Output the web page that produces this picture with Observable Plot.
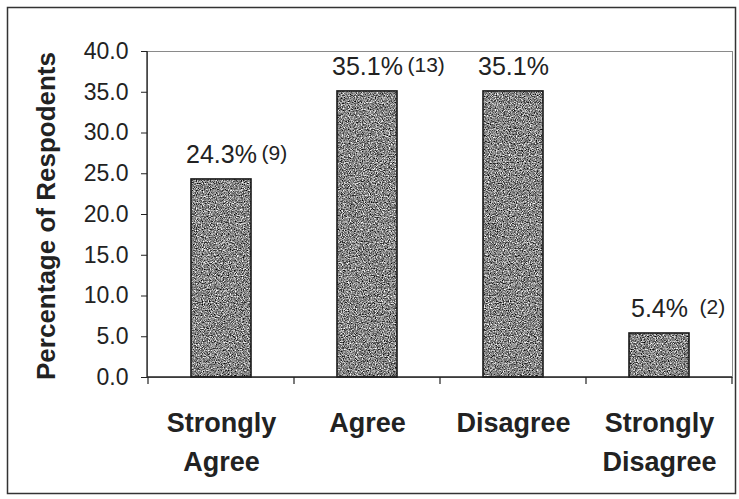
<!DOCTYPE html>
<html>
<head>
<meta charset="utf-8">
<script src="https://cdn.jsdelivr.net/npm/d3@7"></script>
<script src="https://cdn.jsdelivr.net/npm/@observablehq/plot@0.6"></script>
<style>
  html, body { margin: 0; padding: 0; background: #fff; }
</style>
</head>
<body>
<div id="chart"></div>
<script>
// ---- data ----
const categories = ["Strongly Agree", "Agree", "Disagree", "Strongly Disagree"];
const xLabels = ["Strongly\nAgree", "Agree", "Disagree", "Strongly\nDisagree"];
const percents = [24.3, 35.1, 35.1, 5.4];
const counts = ["(9)", "(13)", "", "(2)"];
const yTicks = [0, 5, 10, 15, 20, 25, 30, 35, 40];
const yTitle = "Percentage of Respodents";

const data = categories.map((c, i) => ({cat: c, pct: percents[i], count: counts[i]}));

const chart = Plot.plot({
  width: 739,
  height: 499,
  marginLeft: 147,
  marginRight: 7,
  marginTop: 51,
  marginBottom: 122,
  style: {fontFamily: "'Liberation Sans', Arial, sans-serif", background: "#fff", color: "#222"},
  x: {domain: categories, paddingInner: 0.59, paddingOuter: 0.295},
  y: {domain: [0, 40]},
  marks: [
    Plot.frame({stroke: "#8a8a8a", strokeWidth: 1}),
    Plot.barY(data, {x: "cat", y: "pct", fill: "url(#grainPat)", stroke: "#1a1a1a", strokeWidth: 1.6}),
    Plot.axisY({ticks: yTicks, tickFormat: d => d.toFixed(1), tickSize: 6, tickPadding: 13, fontSize: 23, label: null, stroke: "#222"}),
    Plot.axisX({tickSize: 0, tickPadding: 27, fontSize: 27, fontWeight: "bold", lineHeight: 1.45,
      tickFormat: d => xLabels[categories.indexOf(d)], label: null, fill: "#222"}),
    Plot.text(data, {x: "cat", y: "pct", text: d => d.pct.toFixed(1) + "%", dy: -24, fontSize: 25, lineAnchor: "middle", fill: "#222"}),
    Plot.text(data, {x: "cat", y: "pct", text: "count", textAnchor: "start", dx: 40, dy: -26, fontSize: 21, lineAnchor: "middle", fill: "#222"})
  ]
});

document.getElementById("chart").appendChild(chart);

// ---- decorations built from the plot's own scales ----
const svg = d3.select(chart);
const xs = chart.scale("x");
const ys = chart.scale("y");
const y0 = ys.apply(0);
const yTop = ys.apply(40);
const xr = xs.range;
const step = xs.step ?? (xr[1] - xr[0]) / categories.length;
const bw = xs.bandwidth;

// grain pattern for the bars
const defs = svg.insert("defs", ":first-child");
const filt = defs.append("filter").attr("id", "grain").attr("x", 0).attr("y", 0).attr("width", 1).attr("height", 1)
  .attr("color-interpolation-filters", "sRGB");
filt.append("feTurbulence").attr("type", "fractalNoise").attr("baseFrequency", 0.85).attr("numOctaves", 2).attr("seed", 7);
filt.append("feColorMatrix").attr("type", "matrix")
  .attr("values", "1.7 0 0 0 -0.33  1.7 0 0 0 -0.33  1.7 0 0 0 -0.33  0 0 0 0 1");
const pat = defs.append("pattern").attr("id", "grainPat").attr("patternUnits", "userSpaceOnUse")
  .attr("width", 739).attr("height", 499);
pat.append("rect").attr("width", 739).attr("height", 499).attr("fill", "#8a8a8a");
pat.append("rect").attr("width", 739).attr("height", 499).attr("filter", "url(#grain)");

// axis lines
const g = svg.append("g").attr("stroke", "#222").attr("fill", "none");
g.append("line").attr("x1", xr[0]).attr("x2", xr[0]).attr("y1", yTop).attr("y2", y0).attr("stroke-width", 1.3);
g.append("line").attr("x1", xr[0]).attr("x2", xr[1]).attr("y1", y0).attr("y2", y0).attr("stroke-width", 1.3);
// ticks at category boundaries
const edges = categories.map(c => xs.apply(c) - (step - bw) / 2).concat([xr[1]]);
edges.forEach(e => {
  g.append("line").attr("x1", e).attr("x2", e).attr("y1", y0).attr("y2", y0 + 7).attr("stroke-width", 1.2);
});

// y axis title
svg.append("text")
  .attr("transform", `translate(55,${(yTop + y0) / 2 + 2}) rotate(-90)`)
  .attr("text-anchor", "middle")
  .attr("font-size", 26)
  .attr("font-weight", "bold")
  .attr("fill", "#222")
  .text(yTitle);

// outer border
svg.append("rect").attr("x", 7.5).attr("y", 7.5).attr("width", 728).attr("height", 486)
  .attr("fill", "none").attr("stroke", "#333").attr("stroke-width", 1.5);
</script>
</body>
</html>
